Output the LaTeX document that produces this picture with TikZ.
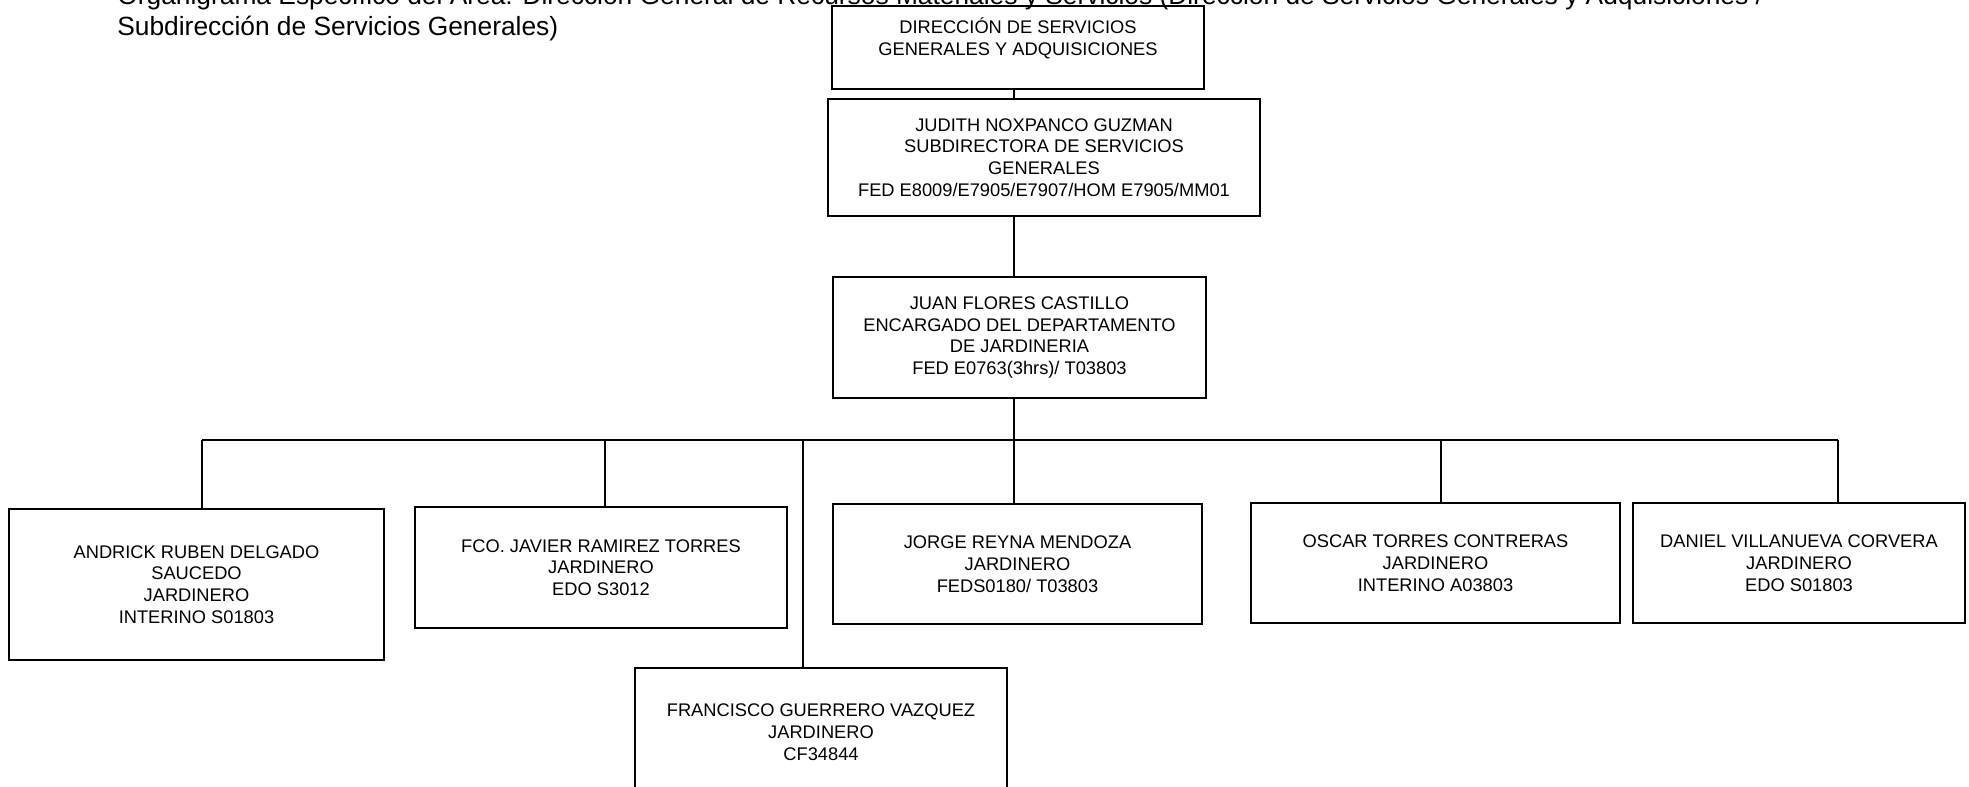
\documentclass[tikz,border=0pt]{standalone}
\usepackage{fontspec}
\setmainfont{Liberation Sans}
\usepackage{tikz}
\usetikzlibrary{positioning}
\newcommand{\cajafont}{\fontsize{10.4}{12.4}\selectfont}
\newcommand{\titulofont}{\fontsize{15}{17.6}\selectfont}
\tikzset{
    puesto/.style={draw, line width=0.8pt, align=center, font=\cajafont, inner sep=2pt},
    enlace/.style={line width=0.85pt},
}

\begin{document}
\begin{tikzpicture}[x=0.02cm, y=-0.02cm]
        \useasboundingbox (0, 0) rectangle (1969, 787);
        %title of the chart
        \node[anchor=base west, font=\titulofont, inner sep=0pt] (tit1) at (117, 5) {Organigrama Específico del Área: Dirección General de Recursos Materiales y Servicios (Dirección de Servicios Generales y Adquisiciones /};
        \node[anchor=base west, font=\titulofont, inner sep=0pt] (tit2) at (117, 36) {Subdirección de Servicios Generales)};
        %draw upper boxes
        \node[puesto, minimum width=7.44cm, minimum height=1.66cm] (dir) at (1018, 47.5) {DIRECCIÓN DE SERVICIOS\\GENERALES Y ADQUISICIONES\\~};
        \node[puesto, minimum width=8.64cm, minimum height=2.34cm] (judith) at (1044, 157.5) {JUDITH NOXPANCO GUZMAN\\SUBDIRECTORA DE SERVICIOS\\GENERALES\\FED E8009/E7905/E7907/HOM E7905/MM01};
        \node[puesto, minimum width=7.46cm, minimum height=2.42cm] (juan) at (1019.5, 337.5) {JUAN FLORES CASTILLO\\ENCARGADO DEL DEPARTAMENTO\\DE JARDINERIA\\FED E0763(3hrs)/ T03803};
        %draw lower boxes
        \node[puesto, minimum width=7.5cm, minimum height=3.02cm] (andrick) at (196.5, 584.5) {ANDRICK RUBEN DELGADO\\SAUCEDO\\JARDINERO\\INTERINO S01803};
        \node[puesto, minimum width=7.44cm, minimum height=2.42cm] (fco) at (601, 567.5) {FCO. JAVIER RAMIREZ TORRES\\JARDINERO\\EDO S3012};
        \node[puesto, minimum width=7.38cm, minimum height=2.4cm] (jorge) at (1017.5, 564) {JORGE REYNA MENDOZA\\JARDINERO\\FEDS0180/ T03803};
        \node[puesto, minimum width=7.38cm, minimum height=2.4cm] (oscar) at (1435.5, 563) {OSCAR TORRES CONTRERAS\\JARDINERO\\INTERINO A03803};
        \node[puesto, minimum width=6.64cm, minimum height=2.4cm] (daniel) at (1799, 563) {DANIEL VILLANUEVA CORVERA\\JARDINERO\\EDO S01803};
        \node[puesto, minimum width=7.44cm, minimum height=2.56cm] (francisco) at (821, 732) {FRANCISCO GUERRERO VAZQUEZ\\JARDINERO\\CF34844};
        %points on the horizontal bar
        \coordinate (trunk) at (1014, 440);
        \coordinate (b1) at (202, 440);
        \coordinate (b2) at (605, 440);
        \coordinate (b3) at (803, 440);
        \coordinate (b5) at (1441, 440);
        \coordinate (b6) at (1838, 440);
        %draw vertical trunk
        \draw[enlace] (dir.south -| trunk) -- (judith.north -| trunk);
        \draw[enlace] (judith.south -| trunk) -- (juan.north -| trunk);
        \draw[enlace] (juan.south -| trunk) -- (trunk);
        %draw horizontal bar and drops
        \draw[enlace] (b1) -- (b6);
        \foreach \c/\n in {b1/andrick, b2/fco, b3/francisco, trunk/jorge, b5/oscar, b6/daniel}
            \draw[enlace] (\c) -- (\n.north -| \c);
    \end{tikzpicture}
\end{document}
